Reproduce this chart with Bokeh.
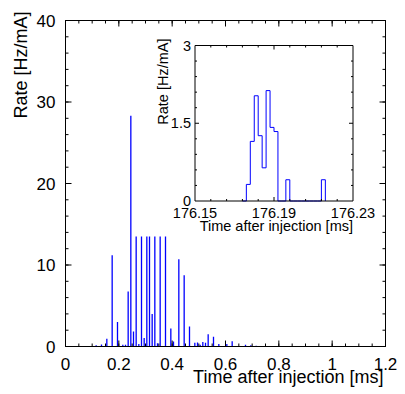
import numpy as np
from math import pi
from bokeh.plotting import figure
from bokeh.models import Range1d, Label
from bokeh.embed import file_html
from bokeh.resources import INLINE
from bokeh.core.properties import value

# ---------------- data: main histogram (time after injection [ms], rate [Hz/mA])
time_ms = [0.115, 0.135, 0.155, 0.175, 0.195, 0.215, 0.225, 0.235, 0.245, 0.255,
           0.265, 0.275, 0.285, 0.295, 0.305, 0.315, 0.325, 0.335, 0.345, 0.355,
           0.375, 0.395, 0.405, 0.425, 0.445, 0.465, 0.485, 0.495, 0.505, 0.515,
           0.525, 0.535, 0.555, 0.575, 0.605, 0.625, 0.675, 0.695, 0.715]
rate = [0.15, 0.25, 0.95, 11.2, 3.0, 0.2, 0.2, 6.75, 28.3, 1.85,
        13.5, 0.3, 13.5, 1.05, 13.5, 13.5, 4.0, 13.5, 0.4, 13.5,
        13.5, 2.2, 0.6, 10.7, 8.75, 2.45, 0.45, 0.5, 0.2, 0.55,
        0.45, 1.5, 1.2, 0.3, 0.3, 0.65, 0.2, 0.15, 0.1]

main_xlim = (0.0, 1.2)
main_ylim = (0.0, 40.0)
x_major = [0.0, 0.2, 0.4, 0.6, 0.8, 1.0, 1.2]
x_labels = ["0", "0.2", "0.4", "0.6", "0.8", "1", "1.2"]
x_minor = [0.05 * i for i in range(25)]
y_major = [0, 10, 20, 30, 40]
y_labels = ["0", "10", "20", "30", "40"]
y_minor = list(range(0, 41, 2))

# ---------------- data: inset histogram
inset_edges = [176.174, 176.176, 176.178, 176.180, 176.182, 176.184, 176.186,
               176.188, 176.190, 176.192, 176.194, 176.196, 176.198, 176.200,
               176.202, 176.204, 176.206, 176.208, 176.210, 176.212, 176.214,
               176.216]
inset_rate = [0.0, 0.32, 1.15, 2.03, 1.26, 0.64, 2.13, 1.42, 1.34, 0.0,
              0.0, 0.41, 0.0, 0.0, 0.0, 0.0, 0.0, 0.0, 0.0, 0.0, 0.41]

inset_xlim = (176.15, 176.23)
inset_ylim = (0.0, 3.0)
inset_x_major = [176.15, 176.19, 176.23]
inset_x_labels = ["176.15", "176.19", "176.23"]
inset_x_minor = [176.158, 176.166, 176.174, 176.182, 176.198, 176.206, 176.214, 176.222]
inset_y_major = [0.0, 1.5, 3.0]
inset_y_labels = ["0", "1.5", "3"]
inset_y_minor = [0.3, 0.6, 0.9, 1.2, 1.8, 2.1, 2.4, 2.7]

FONT = "Liberation Sans"
BLUE = "#0000ff"

# ---------------- layout (canvas pixels)
W, H = 397, 392
L, R, T, B = 65.0, 385.0, 20.0, 346.0            # main plot box
IL, IR, IT, IB = 194.5, 352.5, 45.0, 200.5        # inset plot box

sxm = (R - L) / (main_xlim[1] - main_xlim[0])
sym = (B - T) / (main_ylim[1] - main_ylim[0])
p = figure(width=W, height=H,
           x_range=Range1d(main_xlim[0] - L / sxm, main_xlim[1] + (W - R) / sxm),
           y_range=Range1d(main_ylim[0] - (H - B) / sym, main_ylim[1] + T / sym),
           output_backend="svg", toolbar_location=None, min_border=0,
           x_axis_location=None, y_axis_location=None)
p.background_fill_color = "white"
p.border_fill_color = "white"
p.outline_line_color = None
p.grid.visible = False

sxi = (IR - IL) / (inset_xlim[1] - inset_xlim[0])
syi = (IB - IT) / (inset_ylim[1] - inset_ylim[0])
p.extra_x_ranges = {"ix": Range1d(inset_xlim[0] - IL / sxi, inset_xlim[1] + (W - IR) / sxi)}
p.extra_y_ranges = {"iy": Range1d(inset_ylim[0] - (H - IB) / syi, inset_ylim[1] + IT / syi)}
RI = dict(x_range_name="ix", y_range_name="iy")


def draw_box(xlim, ylim, xmaj, xmin, ymaj, ymin, sx, sy, maj_len, min_len, **kw):
    xs = list(xmin) + list(xmaj)
    xl = [min_len] * len(xmin) + [maj_len] * len(xmaj)
    ys = list(ymin) + list(ymaj)
    yl = [min_len] * len(ymin) + [maj_len] * len(ymaj)
    tick = dict(line_color="black", line_width=1, **kw)
    p.segment(x0=xs, y0=[ylim[0]] * len(xs), x1=xs, y1=[ylim[0] + l / sy for l in xl], **tick)
    p.segment(x0=xs, y0=[ylim[1]] * len(xs), x1=xs, y1=[ylim[1] - l / sy for l in xl], **tick)
    p.segment(x0=[xlim[0]] * len(ys), y0=ys, x1=[xlim[0] + l / sx for l in yl], y1=ys, **tick)
    p.segment(x0=[xlim[1]] * len(ys), y0=ys, x1=[xlim[1] - l / sx for l in yl], y1=ys, **tick)
    p.quad(left=[xlim[0]], right=[xlim[1]], bottom=[ylim[0]], top=[ylim[1]],
           fill_color=None, line_color="black", line_width=1, **kw)


# ---------------- main histogram spikes
p.segment(x0=time_ms, y0=[0] * len(rate), x1=time_ms, y1=rate,
          line_color=BLUE, line_width=1.3)

draw_box(main_xlim, main_ylim, x_major, x_minor, y_major, y_minor, sxm, sym, 6.0, 3.0)

txt = dict(text_font=value(FONT), text_color="black")
p.text(x=x_major, y=[main_ylim[0] - 17.0 / sym] * len(x_major), text=x_labels,
       text_align="center", text_baseline="alphabetic", text_font_size=value("17px"), **txt)
p.text(x=[main_xlim[0] - 10.0 / sxm] * len(y_major), y=y_major, text=y_labels,
       text_align="right", text_baseline="middle", text_font_size=value("17px"), **txt)

p.add_layout(Label(x=main_xlim[1] - 2.0 / sxm, y=main_ylim[0] - 30.5 / sym,
                   text="Time after injection [ms]", text_align="right",
                   text_baseline="alphabetic", text_font=FONT, text_font_size="18px",
                   text_color="black"))
p.add_layout(Label(x=main_xlim[0] - 45.0 / sxm, y=main_ylim[1] + 9.0 / sym,
                   text="Rate [Hz/mA]", angle=pi / 2, text_align="right",
                   text_baseline="alphabetic", text_font=FONT, text_font_size="18px",
                   text_color="black"))

# ---------------- inset
e = np.array(inset_edges)
v = np.array(inset_rate)
step_x = np.repeat(e, 2)
step_y = np.concatenate([[0.0], np.repeat(v, 2), [0.0]])
p.line(step_x, step_y, line_color=BLUE, line_width=1, **RI)

draw_box(inset_xlim, inset_ylim, inset_x_major[1:2], inset_x_minor,
         inset_y_major[1:2], inset_y_minor, sxi, syi, 4.0, 2.0, **RI)

p.text(x=inset_x_major, y=[inset_ylim[0] - 12.0 / syi] * len(inset_x_major), text=inset_x_labels,
       text_align="center", text_baseline="alphabetic", text_font_size=value("14.5px"), **txt, **RI)
p.text(x=[inset_xlim[0] - 4.0 / sxi] * len(inset_y_major), y=inset_y_major, text=inset_y_labels,
       text_align="right", text_baseline="middle", text_font_size=value("14.5px"), **txt, **RI)

p.add_layout(Label(x=inset_xlim[1], y=inset_ylim[0] - 25.0 / syi,
                   text="Time after injection [ms]", text_align="right",
                   text_baseline="alphabetic", text_font=FONT, text_font_size="14.5px",
                   text_color="black", **RI))
p.add_layout(Label(x=inset_xlim[0] - 32.5 / sxi, y=inset_ylim[1] + 7.0 / syi,
                   text="Rate [Hz/mA]", angle=pi / 2, text_align="right",
                   text_baseline="alphabetic", text_font=FONT, text_font_size="14.5px",
                   text_color="black", **RI))

open("out.html", "w").write(file_html(p, INLINE))
